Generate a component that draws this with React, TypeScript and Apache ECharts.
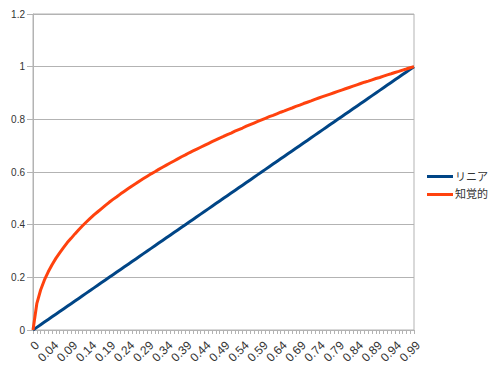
import React, { useEffect, useRef } from "react";
import * as echarts from "echarts";

const xValues = [
  0, 0.01, 0.02, 0.03, 0.04, 0.05, 0.06, 0.07, 0.08, 0.09,
  0.1, 0.11, 0.12, 0.13, 0.14, 0.15, 0.16, 0.17, 0.18, 0.19,
  0.2, 0.21, 0.22, 0.23, 0.24, 0.25, 0.26, 0.27, 0.28, 0.29,
  0.3, 0.31, 0.32, 0.33, 0.34, 0.35, 0.36, 0.37, 0.38, 0.39,
  0.4, 0.41, 0.42, 0.43, 0.44, 0.45, 0.46, 0.47, 0.48, 0.49,
  0.5, 0.51, 0.52, 0.53, 0.54, 0.55, 0.56, 0.57, 0.58, 0.59,
  0.6, 0.61, 0.62, 0.63, 0.64, 0.65, 0.66, 0.67, 0.68, 0.69,
  0.7, 0.71, 0.72, 0.73, 0.74, 0.75, 0.76, 0.77, 0.78, 0.79,
  0.8, 0.81, 0.82, 0.83, 0.84, 0.85, 0.86, 0.87, 0.88, 0.89,
  0.9, 0.91, 0.92, 0.93, 0.94, 0.95, 0.96, 0.97, 0.98, 0.99,
  1,
];

// Tick labels as printed under the axis, one every 5 categories
const xTickLabels = [
  "0", "0.04", "0.09", "0.14", "0.19", "0.24", "0.29", "0.34", "0.39", "0.44",
  "0.49", "0.54", "0.59", "0.64", "0.69", "0.74", "0.79", "0.84", "0.89", "0.94",
  "0.99",
];

const linearValues = [
  0, 0.01, 0.02, 0.03, 0.04, 0.05, 0.06, 0.07, 0.08, 0.09,
  0.1, 0.11, 0.12, 0.13, 0.14, 0.15, 0.16, 0.17, 0.18, 0.19,
  0.2, 0.21, 0.22, 0.23, 0.24, 0.25, 0.26, 0.27, 0.28, 0.29,
  0.3, 0.31, 0.32, 0.33, 0.34, 0.35, 0.36, 0.37, 0.38, 0.39,
  0.4, 0.41, 0.42, 0.43, 0.44, 0.45, 0.46, 0.47, 0.48, 0.49,
  0.5, 0.51, 0.52, 0.53, 0.54, 0.55, 0.56, 0.57, 0.58, 0.59,
  0.6, 0.61, 0.62, 0.63, 0.64, 0.65, 0.66, 0.67, 0.68, 0.69,
  0.7, 0.71, 0.72, 0.73, 0.74, 0.75, 0.76, 0.77, 0.78, 0.79,
  0.8, 0.81, 0.82, 0.83, 0.84, 0.85, 0.86, 0.87, 0.88, 0.89,
  0.9, 0.91, 0.92, 0.93, 0.94, 0.95, 0.96, 0.97, 0.98, 0.99,
  1,
];

const perceptualValues = [
  0, 0.1, 0.152, 0.19, 0.221, 0.248, 0.272, 0.293, 0.313, 0.332,
  0.348, 0.365, 0.381, 0.396, 0.41, 0.424, 0.437, 0.449, 0.461, 0.473,
  0.485, 0.496, 0.506, 0.517, 0.527, 0.537, 0.547, 0.556, 0.566, 0.575,
  0.584, 0.593, 0.601, 0.61, 0.618, 0.626, 0.634, 0.642, 0.65, 0.658,
  0.665, 0.673, 0.68, 0.687, 0.694, 0.701, 0.708, 0.715, 0.722, 0.729,
  0.735, 0.742, 0.748, 0.755, 0.761, 0.767, 0.774, 0.78, 0.786, 0.792,
  0.798, 0.804, 0.81, 0.815, 0.821, 0.827, 0.832, 0.838, 0.843, 0.849,
  0.854, 0.86, 0.865, 0.87, 0.876, 0.881, 0.886, 0.891, 0.896, 0.901,
  0.906, 0.911, 0.916, 0.921, 0.926, 0.931, 0.936, 0.941, 0.945, 0.95,
  0.955, 0.959, 0.964, 0.969, 0.973, 0.978, 0.982, 0.987, 0.991, 0.996,
  1,
];

const seriesNames = ["リニア", "知覚的"];
const FONT = "'Liberation Sans', 'Noto Sans CJK JP', sans-serif";

export default function App() {
  const ref = useRef<HTMLDivElement>(null);
  useEffect(() => {
    if (!ref.current) return;
    const chart = echarts.init(ref.current, null, { renderer: "svg" });
    chart.setOption({
      animation: false,
      textStyle: { fontFamily: FONT },
      grid: {
        left: 33,
        right: 86,
        top: 14,
        bottom: 40,
        show: true,
        borderColor: "#b3b3b3",
        borderWidth: 1,
      },
      legend: {
        orient: "vertical",
        left: 422,
        top: 166,
        itemWidth: 26,
        itemHeight: 3,
        itemGap: 7,
        icon: "rect",
        data: seriesNames.map((n) => ({ name: n })),
        textStyle: { fontFamily: FONT, fontSize: 11, color: "#333", padding: [0, 0, 0, -3] },
      },
      xAxis: {
        type: "category",
        boundaryGap: false,
        data: xValues.map((v) => String(v)),
        axisLine: { show: true, lineStyle: { color: "#b3b3b3", width: 1 } },
        axisTick: {
          show: true,
          interval: 0,
          length: 4,
          lineStyle: { color: "#b3b3b3" },
        },
        axisLabel: {
          interval: (i: number) => i % 5 === 0,
          formatter: (_v: string, i: number) => (i % 5 === 0 ? xTickLabels[i / 5] : ""),
          rotate: 45,
          align: "right",
          verticalAlign: "top",
          fontSize: 12,
          color: "#333",
          margin: 9,
          fontFamily: FONT,
        },
        splitLine: { show: false },
      },
      yAxis: {
        type: "value",
        min: 0,
        max: 1.2,
        interval: 0.2,
        axisLine: { show: true, lineStyle: { color: "#b3b3b3", width: 1 } },
        axisTick: { show: true, length: 6, lineStyle: { color: "#b3b3b3" } },
        axisLabel: { fontSize: 10, color: "#333", margin: 8, fontFamily: FONT },
        splitLine: { show: true, lineStyle: { color: "#b3b3b3", width: 1 } },
      },
      series: [
        {
          name: seriesNames[0],
          type: "line",
          data: linearValues,
          symbol: "none",
          lineStyle: { color: "#004586", width: 3 },
          itemStyle: { color: "#004586" },
        },
        {
          name: seriesNames[1],
          type: "line",
          data: perceptualValues,
          symbol: "none",
          lineStyle: { color: "#ff420e", width: 3 },
          itemStyle: { color: "#ff420e" },
        },
      ],
    });
    return () => chart.dispose();
  }, []);
  return <div ref={ref} style={{ width: 500, height: 370, position: "absolute", left: 0, top: 0 }} />;
}
